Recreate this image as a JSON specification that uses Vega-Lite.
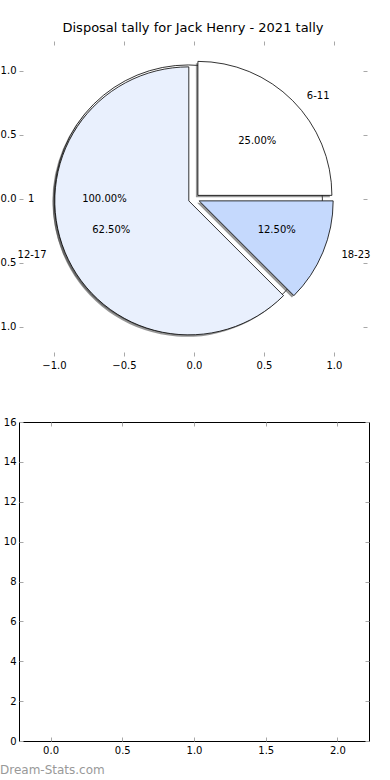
{
  "$schema": "https://vega.github.io/schema/vega-lite/v6.json",
  "background": "white",
  "autosize": {"type": "pad"},
  "padding": {"left": -9, "top": 21, "right": 0, "bottom": 0},
  "bounds": "flush",
  "spacing": 66,
  "datasets": {
    "wedges": [
      {"label": "1", "start": 0, "end": 100, "cx": -0.04, "cy": 0},
      {"label": "6-11", "start": 0, "end": 25, "cx": 0.028, "cy": 0.028},
      {"label": "18-23", "start": 25, "end": 37.5, "cx": 0.037, "cy": -0.015},
      {"label": "12-17", "start": 37.5, "end": 100, "cx": -0.037, "cy": -0.015}
    ],
    "labels": [
      {"text": "6-11", "lx": 0.806, "ly": 0.806, "pos": "L"},
      {"text": "25.00%", "lx": 0.452, "ly": 0.452, "pos": "C"},
      {"text": "18-23", "lx": 1.053, "ly": -0.436, "pos": "L"},
      {"text": "12.50%", "lx": 0.591, "ly": -0.245, "pos": "C"},
      {"text": "12-17", "lx": -1.053, "ly": -0.436, "pos": "R"},
      {"text": "62.50%", "lx": -0.591, "ly": -0.245, "pos": "C"},
      {"text": "1", "lx": -1.14, "ly": 0, "pos": "R"},
      {"text": "100.00%", "lx": -0.64, "ly": 0, "pos": "C"}
    ]
  },
  "vconcat": [
    {
      "width": 348,
      "height": 315,
      "view": {"stroke": null},
      "title": {"text": "Disposal tally for Jack Henry - 2021 tally", "fontSize": 13, "fontWeight": "normal", "color": "black", "font": "DejaVu Sans", "anchor": "middle", "offset": 6},
      "layer": [
        {
          "data": {"name": "wedges"},
          "transform": [{"filter": "datum.label == '1'"}],
          "mark": {"type": "arc", "outerRadius": 134, "xOffset": -2, "yOffset": 2, "color": "#404040", "opacity": 0.55},
          "encoding": {
            "x": {"field": "cx", "type": "quantitative", "scale": {"domain": [-1.25, 1.236], "nice": false, "zero": false},
                  "axis": {"orient": "bottom", "values": [-1, -0.5, 0, 0.5, 1], "format": ".1f", "title": null, "domain": false, "tickSize": -4, "labelPadding": 8}},
            "y": {"field": "cy", "type": "quantitative", "scale": {"domain": [-1.227, 1.234], "nice": false, "zero": false},
                  "axis": {"orient": "left", "values": [-1, -0.5, 0, 0.5, 1], "format": ".1f", "title": null, "domain": false, "tickSize": -4, "labelPadding": 7}},
            "theta": {"field": "start", "type": "quantitative", "stack": null, "scale": {"domain": [0, 100]}},
            "theta2": {"field": "end"}
          }
        },
        {
          "data": {"name": "wedges"},
          "transform": [{"filter": "datum.label == '1'"}],
          "mark": {"type": "arc", "outerRadius": 134, "stroke": "black", "strokeWidth": 0.8},
          "encoding": {
            "x": {"field": "cx", "type": "quantitative",
                  "axis": {"orient": "top", "values": [-1, -0.5, 0, 0.5, 1], "labels": false, "title": null, "domain": false, "tickSize": -4}},
            "y": {"field": "cy", "type": "quantitative",
                  "axis": {"orient": "right", "values": [-1, -0.5, 0, 0.5, 1], "labels": false, "title": null, "domain": false, "tickSize": -4}},
            "theta": {"field": "start", "type": "quantitative", "stack": null},
            "theta2": {"field": "end"},
            "color": {"field": "label", "type": "nominal", "legend": null,
                      "scale": {"domain": ["1", "6-11", "18-23", "12-17"], "range": ["#ffffff", "#ffffff", "#c5d9fd", "#e9f0fd"]}}
          }
        },
        {
          "data": {"name": "wedges"},
          "transform": [{"filter": "datum.label != '1'"}],
          "mark": {"type": "arc", "outerRadius": 134, "xOffset": -2, "yOffset": 2, "color": "#404040", "opacity": 0.55},
          "encoding": {
            "x": {"field": "cx", "type": "quantitative", "axis": null},
            "y": {"field": "cy", "type": "quantitative", "axis": null},
            "theta": {"field": "start", "type": "quantitative", "stack": null},
            "theta2": {"field": "end"}
          }
        },
        {
          "data": {"name": "wedges"},
          "transform": [{"filter": "datum.label != '1'"}],
          "mark": {"type": "arc", "outerRadius": 134, "stroke": "black", "strokeWidth": 0.8},
          "encoding": {
            "x": {"field": "cx", "type": "quantitative", "axis": null},
            "y": {"field": "cy", "type": "quantitative", "axis": null},
            "theta": {"field": "start", "type": "quantitative", "stack": null},
            "theta2": {"field": "end"},
            "color": {"field": "label", "type": "nominal", "legend": null}
          }
        },
        {
          "data": {"name": "labels"},
          "transform": [{"filter": "datum.pos == 'L'"}],
          "mark": {"type": "text", "align": "left", "baseline": "middle", "fontSize": 10, "font": "DejaVu Sans", "color": "black"},
          "encoding": {
            "x": {"field": "lx", "type": "quantitative", "axis": null},
            "y": {"field": "ly", "type": "quantitative", "axis": null},
            "text": {"field": "text"}
          }
        },
        {
          "data": {"name": "labels"},
          "transform": [{"filter": "datum.pos == 'R'"}],
          "mark": {"type": "text", "align": "right", "baseline": "middle", "fontSize": 10, "font": "DejaVu Sans", "color": "black"},
          "encoding": {
            "x": {"field": "lx", "type": "quantitative", "axis": null},
            "y": {"field": "ly", "type": "quantitative", "axis": null},
            "text": {"field": "text"}
          }
        },
        {
          "data": {"name": "labels"},
          "transform": [{"filter": "datum.pos == 'C'"}],
          "mark": {"type": "text", "align": "center", "baseline": "middle", "fontSize": 10, "font": "DejaVu Sans", "color": "black"},
          "encoding": {
            "x": {"field": "lx", "type": "quantitative", "axis": null},
            "y": {"field": "ly", "type": "quantitative", "axis": null},
            "text": {"field": "text"}
          }
        }
      ],
      "resolve": {"axis": {"x": "independent", "y": "independent"}}
    },
    {
      "width": 350,
      "height": 319,
      "view": {"stroke": "black", "strokeWidth": 1},
      "title": {"text": "Dream-Stats.com", "orient": "bottom", "anchor": "start", "frame": "group", "dx": -19, "offset": 10, "fontSize": 12, "fontWeight": "normal", "color": "#999999", "font": "DejaVu Sans"},
      "data": {"values": []},
      "layer": [
        {
          "mark": {"type": "point", "opacity": 0},
          "encoding": {
            "x": {"field": "x", "type": "quantitative", "scale": {"domain": [-0.22, 2.22], "nice": false, "zero": false},
                  "axis": {"orient": "bottom", "values": [0, 0.5, 1, 1.5, 2], "format": ".1f", "title": null, "domain": false, "tickSize": -4, "labelPadding": 8}},
            "y": {"field": "y", "type": "quantitative", "scale": {"domain": [0, 16], "nice": false, "zero": false},
                  "axis": {"orient": "left", "values": [0, 2, 4, 6, 8, 10, 12, 14, 16], "format": "d", "title": null, "domain": false, "tickSize": -4, "labelPadding": 7}}
          }
        },
        {
          "mark": {"type": "point", "opacity": 0},
          "encoding": {
            "x": {"field": "x", "type": "quantitative",
                  "axis": {"orient": "top", "values": [0, 0.5, 1, 1.5, 2], "labels": false, "title": null, "domain": false, "tickSize": -4}},
            "y": {"field": "y", "type": "quantitative",
                  "axis": {"orient": "right", "values": [0, 2, 4, 6, 8, 10, 12, 14, 16], "labels": false, "title": null, "domain": false, "tickSize": -4}}
          }
        }
      ],
      "resolve": {"axis": {"x": "independent", "y": "independent"}}
    }
  ],
  "config": {
    "font": "DejaVu Sans",
    "axis": {"labelFont": "DejaVu Sans", "labelFontSize": 10, "labelColor": "black", "tickColor": "#a8a8a8", "tickWidth": 1, "grid": false}
  }
}
